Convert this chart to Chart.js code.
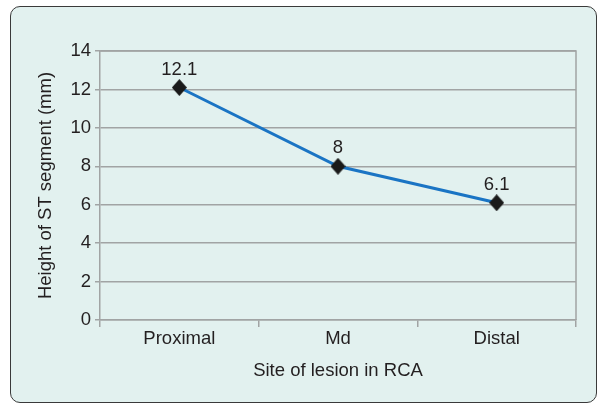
<!DOCTYPE html>
<html>
<head>
<meta charset="utf-8">
<script src="https://cdn.jsdelivr.net/npm/chart.js@4/dist/chart.umd.min.js"></script>
<style>
  html, body { margin: 0; padding: 0; background: #ffffff; }
  #wrap { position: relative; width: 603px; height: 408px; }
  #card {
    position: absolute; left: 10px; top: 6px; width: 585px; height: 395px;
    border: 1.5px solid #3a3a3a; border-radius: 10px; background: #e2f1ef;
  }
  #c { position: absolute; left: 0; top: 0; }
</style>
</head>
<body>
<div id="wrap">
  <div id="card"></div>
  <canvas id="c" width="603" height="408"></canvas>
</div>
<script>
// Mean ST-segment height by lesion site in the right coronary artery
const sites = ['Proximal', 'Md', 'Distal'];
const stHeight = [12.1, 8, 6.1];
const yTicks = [0, 2, 4, 6, 8, 10, 12, 14];

const FONT = 'Liberation Sans, Arial, sans-serif';
const SIZE = 18.5;
const TEXT = '#231f20';
const GRID = '#a1a4a4';

// Black diamond marker, slightly taller than wide
function diamond(w, h) {
  const c = document.createElement('canvas');
  c.width = w; c.height = h;
  const g = c.getContext('2d');
  g.fillStyle = '#1a1a1a';
  g.beginPath();
  g.moveTo(w / 2, 0);
  g.lineTo(w, h / 2);
  g.lineTo(w / 2, h);
  g.lineTo(0, h / 2);
  g.closePath();
  g.fill();
  return c;
}
const marker = diamond(15, 17);

// Frame around the plot area (top and right edges)
const frame = {
  id: 'frame',
  afterDraw(chart) {
    const { ctx, chartArea: a } = chart;
    ctx.save();
    ctx.strokeStyle = GRID;
    ctx.lineWidth = 1.5;
    ctx.beginPath();
    ctx.moveTo(a.left, a.top);
    ctx.lineTo(a.right, a.top);
    ctx.lineTo(a.right, a.bottom);
    ctx.stroke();
    ctx.restore();
  }
};

// Value labels above each point
const valueLabels = {
  id: 'valueLabels',
  afterDatasetsDraw(chart) {
    const { ctx } = chart;
    const meta = chart.getDatasetMeta(0);
    ctx.save();
    ctx.font = SIZE + 'px ' + FONT;
    ctx.fillStyle = TEXT;
    ctx.textAlign = 'center';
    ctx.textBaseline = 'alphabetic';
    meta.data.forEach((pt, i) => {
      ctx.fillText(String(stHeight[i]), pt.x, pt.y - 13);
    });
    ctx.restore();
  }
};

new Chart(document.getElementById('c'), {
  type: 'line',
  data: {
    labels: sites,
    datasets: [{
      data: stHeight,
      borderColor: '#1a74c4',
      borderWidth: 3,
      pointStyle: marker,
      pointRadius: 8,
      pointHoverRadius: 8,
      tension: 0
    }]
  },
  options: {
    responsive: false,
    animation: false,
    events: [],
    layout: { padding: { left: 0, top: 51, right: 27, bottom: 0 } },
    plugins: { legend: { display: false }, tooltip: { enabled: false } },
    scales: {
      x: {
        offset: true,
        grid: { offset: true, drawOnChartArea: false, drawTicks: true, tickLength: 7, color: GRID, lineWidth: 1.5 },
        border: { color: GRID, width: 1.5 },
        ticks: { color: TEXT, font: { family: FONT, size: SIZE }, padding: 1 },
        title: { display: true, text: 'Site of lesion in RCA', color: TEXT, font: { family: FONT, size: SIZE }, padding: { top: 0, bottom: 26 } },
        afterFit(s) { s.height = 88; }
      },
      y: {
        min: 0, max: 14,
        afterBuildTicks(s) { s.ticks = yTicks.map(v => ({ value: v })); },
        grid: { color: GRID, lineWidth: 1.5, tickLength: 5 },
        border: { color: GRID, width: 1.5 },
        ticks: { color: TEXT, font: { family: FONT, size: SIZE }, padding: 4 },
        title: { display: true, text: 'Height of ST segment (mm)', color: TEXT, font: { family: FONT, size: SIZE }, padding: { top: 35, bottom: 0 } },
        afterFit(s) { s.width = 100; }
      }
    }
  },
  plugins: [frame, valueLabels]
});
</script>
</body>
</html>
